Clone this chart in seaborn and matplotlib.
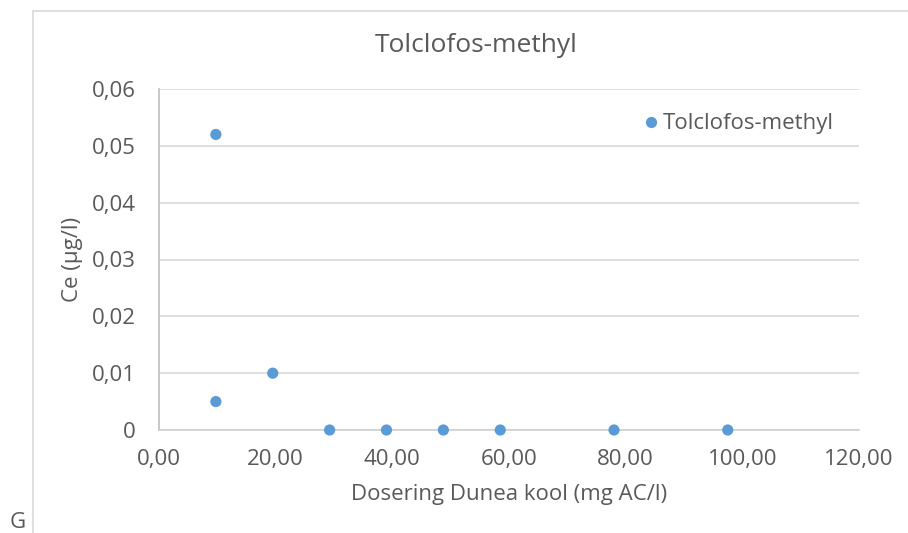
import matplotlib
matplotlib.use("Agg")
import matplotlib.pyplot as plt
from matplotlib.patches import Rectangle
import seaborn as sns
import pandas as pd

# Dosage of activated carbon (mg AC/l) and measured effluent concentration (µg/l)
dosering = [9.75, 9.75, 19.5, 29.25, 39.0, 48.75, 58.5, 78.0, 97.5]
ce = [0.052, 0.005, 0.010, 0.0, 0.0, 0.0, 0.0, 0.0, 0.0]
stof = "Tolclofos-methyl"

x_ticks = [0, 20, 40, 60, 80, 100, 120]
x_tick_labels = ["0,00", "20,00", "40,00", "60,00", "80,00", "100,00", "120,00"]
y_ticks = [0, 0.01, 0.02, 0.03, 0.04, 0.05, 0.06]
y_tick_labels = ["0", "0,01", "0,02", "0,03", "0,04", "0,05", "0,06"]

df = pd.DataFrame({"Dosering": dosering, "Ce": ce, "Stof": [stof] * len(ce)})

sns.set_theme(style="white")
plt.rcParams["font.family"] = ["Open Sans", "DejaVu Sans"]

TXT = "#595959"
BLUE = "#5B9BD5"
FS = 16
W, H = 908, 533
fig = plt.figure(figsize=(W / 100, H / 100), dpi=100)
fig.patch.set_facecolor("white")

# chart frame (left and top edges visible)
fig.add_artist(Rectangle((32.5 / W, -0.2), 2.0, 1.2 - 10.5 / H,
                         transform=fig.transFigure, fill=False,
                         edgecolor="#d9d9d9", linewidth=1.2))

ax = fig.add_axes([159 / W, 1 - 430 / H, (859 - 159) / W, (430 - 89) / H])
sns.scatterplot(data=df, x="Dosering", y="Ce", hue="Stof", palette=[BLUE],
                s=65, edgecolor="none", ax=ax, zorder=3, clip_on=False)

ax.set_xlim(0, 120)
ax.set_ylim(0, 0.06)
ax.set_xticks(x_ticks)
ax.set_xticklabels(x_tick_labels)
ax.set_yticks(y_ticks)
ax.set_yticklabels(y_tick_labels)
ax.tick_params(axis="both", length=0, colors=TXT, labelsize=FS)
ax.tick_params(axis="x", pad=14)
ax.tick_params(axis="y", pad=17)
ax.yaxis.grid(True, color="#d9d9d9", linewidth=1.2)
ax.set_axisbelow(True)
for side in ["top", "right"]:
    ax.spines[side].set_visible(False)
ax.spines["left"].set_color("#bfbfbf")
ax.spines["left"].set_linewidth(1.2)
ax.spines["bottom"].set_color("#d0d0d0")
ax.spines["bottom"].set_linewidth(1.2)

ax.set_xlabel("Dosering Dunea kool (mg AC/l)", color=TXT, fontsize=FS, labelpad=10)
ax.set_ylabel("Ce (µg/l)", color=TXT, fontsize=FS, labelpad=6)

leg = ax.legend(loc="center left",
                bbox_to_anchor=((641 - 159) / (859 - 159), 1 - (124 - 89) / (430 - 89)),
                frameon=False, fontsize=FS, handlelength=0.9, handletextpad=0.1,
                borderaxespad=0, borderpad=0)
for t in leg.get_texts():
    t.set_color(TXT)

fig.text(476 / W, 1 - 46 / H, "Tolclofos-methyl", ha="center", va="center",
         color=TXT, fontsize=19)
fig.text(10 / W, 1 - 528 / H, "G", ha="left", va="baseline", color=TXT, fontsize=FS)

fig.savefig("out.png", dpi=100)
